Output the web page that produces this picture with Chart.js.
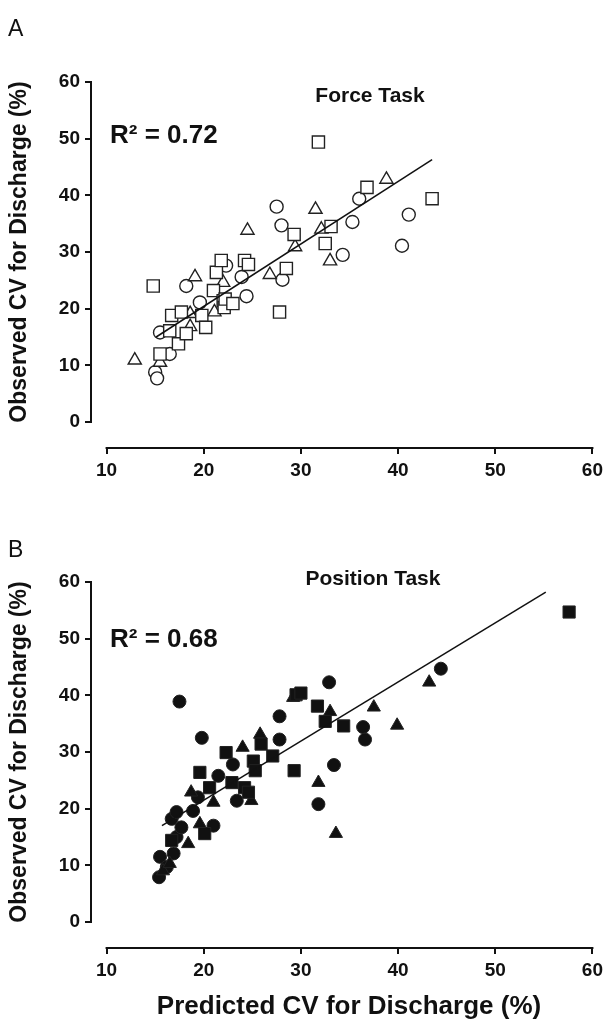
<!DOCTYPE html>
<html lang="en">
<head>
<meta charset="UTF-8">
<title>Observed vs Predicted CV for Discharge</title>
<script src="https://cdn.jsdelivr.net/npm/chart.js@4.4.1/dist/chart.umd.min.js"></script>
<style>
  body { margin: 0; background: #fff; font-family: "Liberation Sans", Arial, sans-serif; color: #111; }
  .panel { position: absolute; left: 0; width: 608px; }
  .panel canvas { position: absolute; left: 0; top: 0; }
  .lbl { position: absolute; white-space: nowrap; }
  .letter { font-size: 23px; transform: translateY(-50%); }
  .task { font-size: 21px; font-weight: bold; transform: translate(-50%, -50%); }
  .r2 { font-size: 26px; font-weight: bold; transform: translateY(-50%); }
  .ytitle { font-size: 23px; font-weight: bold; transform: translate(-50%, -50%) rotate(-90deg); }
  .xtitle { font-size: 26px; font-weight: bold; transform: translate(-50%, -50%); }
</style>
</head>
<body>

<!-- Panel A -->
<div class="panel" style="top:0; height:500px;">
  <canvas id="forceChart" width="608" height="500"></canvas>
  <div class="lbl letter" style="left:8px; top:28px;">A</div>
  <div class="lbl task" style="left:370px; top:95px;">Force Task</div>
  <div class="lbl r2" style="left:110px; top:134px;">R² = 0.72</div>
  <div class="lbl ytitle" style="left:18px; top:252px;">Observed CV for Discharge (%)</div>
</div>

<!-- Panel B -->
<div class="panel" style="top:500px; height:529px;">
  <canvas id="positionChart" width="608" height="529"></canvas>
  <div class="lbl letter" style="left:8px; top:49px;">B</div>
  <div class="lbl task" style="left:373px; top:78px;">Position Task</div>
  <div class="lbl r2" style="left:110px; top:138px;">R² = 0.68</div>
  <div class="lbl ytitle" style="left:18px; top:252px;">Observed CV for Discharge (%)</div>
  <div class="lbl xtitle" style="left:349px; top:505px;">Predicted CV for Discharge (%)</div>
</div>

<script>
  // tick values
  const xTicks = [10, 20, 30, 40, 50, 60];
  const yTicks = [0, 10, 20, 30, 40, 50, 60];

  // Force task (open markers) [predicted, observed]
  const forceCircles = [[15.0, 8.8], [15.2, 7.7], [15.5, 15.8], [16.5, 12.0], [18.2, 24.0], [19.6, 21.1],
    [22.3, 27.6], [23.9, 25.6], [24.4, 22.2], [27.5, 38.0], [28.0, 34.7], [28.1, 25.1], [34.3, 29.5],
    [35.3, 35.3], [36.0, 39.4], [40.4, 31.1], [41.1, 36.6]];
  const forceSquares = [[14.8, 24.0], [15.5, 12.0], [16.5, 16.1], [16.7, 18.8], [17.4, 13.8], [17.7, 19.4],
    [18.2, 15.6], [19.8, 18.8], [20.2, 16.7], [21.0, 23.2], [21.3, 26.4], [21.8, 28.5], [22.0, 21.4],
    [22.1, 20.2], [22.2, 21.7], [23.0, 20.9], [24.2, 28.5], [24.6, 27.8], [27.8, 19.4], [28.5, 27.1],
    [29.3, 33.1], [31.8, 49.4], [32.5, 31.5], [33.1, 34.5], [36.8, 41.4], [43.5, 39.4]];
  const forceTriangles = [[12.9, 10.9], [15.5, 10.5], [18.6, 16.8], [18.6, 19.1], [19.1, 25.6], [21.1, 19.4],
    [22.0, 24.6], [24.5, 33.8], [26.8, 26.0], [29.4, 30.9], [31.5, 37.5], [32.1, 34.0], [33.0, 28.4],
    [38.8, 42.8]];
  const forceTrend = [[15.1, 15.0], [43.5, 46.3]];

  // Position task (filled markers)
  const posCircles = [[15.4, 7.9], [15.5, 11.5], [16.2, 9.7], [16.9, 12.1], [17.2, 15.0], [17.7, 16.7],
    [16.7, 18.2], [17.2, 19.4], [18.9, 19.6], [19.4, 22.0], [21.0, 17.0], [21.5, 25.8], [23.0, 27.8],
    [23.4, 21.4], [19.8, 32.5], [17.5, 38.9], [27.8, 36.3], [27.8, 32.2], [32.9, 42.3], [33.4, 27.7],
    [31.8, 20.8], [36.4, 34.4], [36.6, 32.2], [44.4, 44.7]];
  const posSquares = [[16.7, 14.4], [20.1, 15.6], [19.6, 26.4], [20.6, 23.7], [22.3, 29.9], [22.9, 24.6],
    [24.2, 23.7], [24.6, 22.9], [25.1, 28.4], [25.3, 26.7], [25.9, 31.4], [27.1, 29.3], [29.3, 26.7],
    [29.5, 40.1], [30.0, 40.4], [31.7, 38.1], [32.5, 35.4], [34.4, 34.6], [57.6, 54.7]];
  const posTriangles = [[15.8, 9.0], [16.5, 10.3], [18.4, 13.8], [18.7, 22.9], [19.6, 17.3], [21.0, 21.1],
    [24.0, 30.8], [24.9, 21.4], [25.8, 33.1], [29.2, 39.6], [31.8, 24.6], [33.0, 37.1], [33.6, 15.6],
    [37.5, 37.9], [39.9, 34.7], [43.2, 42.3]];
  const posTrend = [[15.7, 17.0], [55.2, 58.2]];

  const toXY = arr => arr.map(p => ({ x: p[0], y: p[1] }));

  // draw the detached Excel-style axis lines
  const axisLines = {
    id: 'axisLines',
    afterDraw(chart) {
      const ctx = chart.ctx, xs = chart.scales.x, ys = chart.scales.y;
      const left = chart.chartArea.left, bottom = chart.chartArea.bottom;
      ctx.save();
      ctx.strokeStyle = '#111';
      ctx.lineWidth = 2;
      ctx.beginPath();
      ctx.moveTo(left, ys.getPixelForValue(yTicks[0]) + 1);
      ctx.lineTo(left, ys.getPixelForValue(yTicks[yTicks.length - 1]) - 1);
      ctx.moveTo(xs.getPixelForValue(xTicks[0]) - 1, bottom);
      ctx.lineTo(xs.getPixelForValue(xTicks[xTicks.length - 1]) + 1, bottom);
      ctx.stroke();
      ctx.restore();
    }
  };

  function makeChart(id, circles, squares, triangles, trend, filled, canvasH) {
    // pixel frame: y=60 at 82, y=0 at 422, x-axis at 448, x=10 at 106.6, x=60 at 593, y-axis at 91
    const top = 82, zero = 422, axisY = 448, x10 = 106.6, x60 = 593, axisX = 91;
    const yPer = (zero - top) / 60;
    const xPer = (x60 - x10) / 50;
    const fill = filled ? '#111' : '#fff';
    const mark = (data, style, r, order) => ({
      data: toXY(data), pointStyle: style, pointRadius: r, pointHoverRadius: r,
      backgroundColor: fill, borderColor: '#222', borderWidth: filled ? 1 : 1.4, order: order
    });
    const tickFont = { family: 'Liberation Sans', size: 19, weight: 'bold' };
    return new Chart(document.getElementById(id), {
      type: 'scatter',
      data: {
        datasets: [
          { data: toXY(trend), showLine: true, pointRadius: 0, borderColor: '#111', borderWidth: 1.5, order: 0 },
          mark(squares, 'rect', 8.6, 1),
          mark(triangles, 'triangle', 7.6, 2),
          mark(circles, 'circle', 6.5, 3)
        ]
      },
      options: {
        responsive: false,
        animation: false,
        layout: { padding: { top: top, right: 608 - x60, left: 0, bottom: 0 } },
        plugins: { legend: { display: false }, tooltip: { enabled: false } },
        scales: {
          x: {
            type: 'linear',
            min: 10 - (x10 - axisX) / xPer,
            max: 60,
            afterBuildTicks: s => { s.ticks = xTicks.map(v => ({ value: v })); },
            afterFit: s => { s.height = canvasH - axisY; },
            grid: { drawOnChartArea: false, drawTicks: true, tickLength: 6, color: '#111', lineWidth: 2 },
            border: { display: false },
            ticks: { font: tickFont, color: '#111', padding: 5, maxRotation: 0 }
          },
          y: {
            type: 'linear',
            min: -(axisY - zero) / yPer,
            max: 60,
            afterBuildTicks: s => { s.ticks = yTicks.map(v => ({ value: v })); },
            afterFit: s => { s.width = axisX; },
            grid: { drawOnChartArea: false, drawTicks: true, tickLength: 6, color: '#111', lineWidth: 2 },
            border: { display: false },
            ticks: { font: tickFont, color: '#111', padding: 5 }
          }
        }
      },
      plugins: [axisLines]
    });
  }

  makeChart('forceChart', forceCircles, forceSquares, forceTriangles, forceTrend, false, 500);
  makeChart('positionChart', posCircles, posSquares, posTriangles, posTrend, true, 529);
</script>
</body>
</html>
